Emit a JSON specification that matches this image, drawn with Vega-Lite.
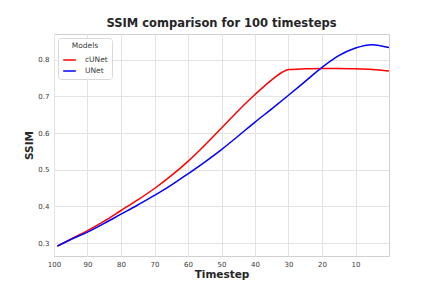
{
  "$schema": "https://vega.github.io/schema/vega-lite/v6.json",
  "width": 335,
  "height": 222,
  "autosize": {"type": "none"},
  "padding": {"left": 54, "top": 34, "right": 43, "bottom": 32},
  "background": "white",
  "title": {
    "text": "SSIM comparison for 100 timesteps",
    "font": "DejaVu Sans",
    "fontSize": 11.5,
    "fontWeight": "bold",
    "color": "#262626",
    "anchor": "middle",
    "offset": 5
  },
  "config": {
    "font": "DejaVu Sans",
    "view": {"stroke": "#d0d0d0", "strokeWidth": 1},
    "axis": {
      "domain": false,
      "ticks": false,
      "gridColor": "#e3e3e3",
      "gridWidth": 1,
      "labelFont": "DejaVu Sans",
      "labelFontSize": 7,
      "labelColor": "#3a3a3a",
      "titleFont": "DejaVu Sans",
      "titleFontSize": 10.5,
      "titleFontWeight": "bold",
      "titleColor": "#262626"
    }
  },
  "data": {
    "values": [
      {"t": 99, "ssim": 0.292, "model": "cUNet"},
      {"t": 95, "ssim": 0.311, "model": "cUNet"},
      {"t": 90, "ssim": 0.334, "model": "cUNet"},
      {"t": 85, "ssim": 0.360, "model": "cUNet"},
      {"t": 80, "ssim": 0.389, "model": "cUNet"},
      {"t": 75, "ssim": 0.418, "model": "cUNet"},
      {"t": 70, "ssim": 0.449, "model": "cUNet"},
      {"t": 65, "ssim": 0.484, "model": "cUNet"},
      {"t": 60, "ssim": 0.523, "model": "cUNet"},
      {"t": 55, "ssim": 0.567, "model": "cUNet"},
      {"t": 50, "ssim": 0.614, "model": "cUNet"},
      {"t": 45, "ssim": 0.661, "model": "cUNet"},
      {"t": 40, "ssim": 0.705, "model": "cUNet"},
      {"t": 35, "ssim": 0.745, "model": "cUNet"},
      {"t": 32, "ssim": 0.765, "model": "cUNet"},
      {"t": 30, "ssim": 0.773, "model": "cUNet"},
      {"t": 25, "ssim": 0.775, "model": "cUNet"},
      {"t": 20, "ssim": 0.776, "model": "cUNet"},
      {"t": 15, "ssim": 0.776, "model": "cUNet"},
      {"t": 10, "ssim": 0.775, "model": "cUNet"},
      {"t": 5, "ssim": 0.773, "model": "cUNet"},
      {"t": 0, "ssim": 0.769, "model": "cUNet"},
      {"t": 99, "ssim": 0.292, "model": "UNet"},
      {"t": 95, "ssim": 0.310, "model": "UNet"},
      {"t": 90, "ssim": 0.330, "model": "UNet"},
      {"t": 85, "ssim": 0.354, "model": "UNet"},
      {"t": 80, "ssim": 0.379, "model": "UNet"},
      {"t": 75, "ssim": 0.404, "model": "UNet"},
      {"t": 70, "ssim": 0.430, "model": "UNet"},
      {"t": 65, "ssim": 0.458, "model": "UNet"},
      {"t": 60, "ssim": 0.489, "model": "UNet"},
      {"t": 55, "ssim": 0.521, "model": "UNet"},
      {"t": 50, "ssim": 0.555, "model": "UNet"},
      {"t": 45, "ssim": 0.592, "model": "UNet"},
      {"t": 40, "ssim": 0.630, "model": "UNet"},
      {"t": 35, "ssim": 0.666, "model": "UNet"},
      {"t": 30, "ssim": 0.703, "model": "UNet"},
      {"t": 25, "ssim": 0.741, "model": "UNet"},
      {"t": 20, "ssim": 0.779, "model": "UNet"},
      {"t": 15, "ssim": 0.811, "model": "UNet"},
      {"t": 10, "ssim": 0.832, "model": "UNet"},
      {"t": 5, "ssim": 0.841, "model": "UNet"},
      {"t": 0, "ssim": 0.833, "model": "UNet"}
    ]
  },
  "mark": {"type": "line", "strokeWidth": 1.5, "interpolate": "monotone", "clip": true},
  "encoding": {
    "x": {
      "field": "t",
      "type": "quantitative",
      "title": "Timestep",
      "scale": {"domain": [0, 100], "reverse": true, "nice": false, "zero": false},
      "axis": {"values": [100, 90, 80, 70, 60, 50, 40, 30, 20, 10], "labelPadding": 4, "titlePadding": 2, "labelFlush": false}
    },
    "y": {
      "field": "ssim",
      "type": "quantitative",
      "title": "SSIM",
      "scale": {"domain": [0.265, 0.87], "nice": false, "zero": false},
      "axis": {"values": [0.3, 0.4, 0.5, 0.6, 0.7, 0.8], "format": ".1f", "labelPadding": 5, "titlePadding": 3}
    },
    "color": {
      "field": "model",
      "type": "nominal",
      "scale": {"domain": ["cUNet", "UNet"], "range": ["#ff0000", "#0000ff"]},
      "legend": {
        "title": "Models",
        "orient": "top-left",
        "offset": 4,
        "padding": 4,
        "fillColor": "white",
        "strokeColor": "#d9d9d9",
        "cornerRadius": 3,
        "titleAnchor": "middle",
        "titleFontSize": 7.5,
        "titleFontWeight": "normal",
        "titleColor": "#3a3a3a",
        "titlePadding": 3,
        "labelFontSize": 7.5,
        "labelColor": "#3a3a3a",
        "symbolType": "stroke",
        "symbolSize": 160,
        "symbolStrokeWidth": 1.5,
        "labelOffset": 8,
        "rowPadding": 0
      }
    }
  }
}
